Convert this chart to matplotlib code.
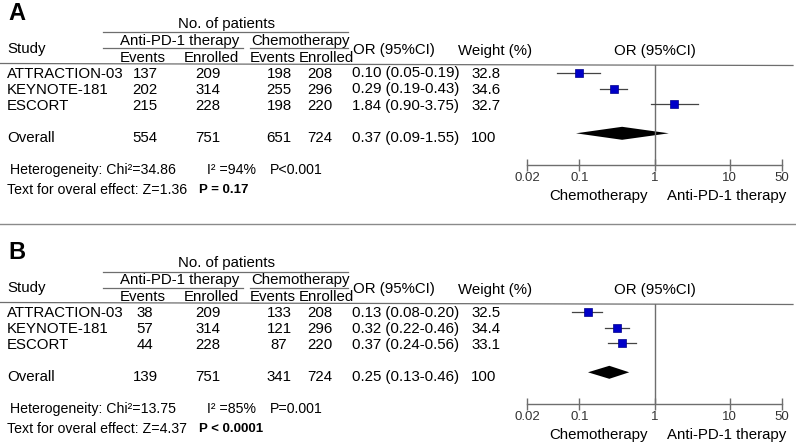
import matplotlib.pyplot as plt
from matplotlib.ticker import NullLocator

plt.rcParams['font.family'] = ['Liberation Sans Narrow', 'Liberation Sans', 'DejaVu Sans']

# data
studies = ["ATTRACTION-03", "KEYNOTE-181", "ESCORT"]
enrolled_pd1 = [209, 314, 228]
enrolled_chemo = [208, 296, 220]

a_events_pd1 = [137, 202, 215]
a_events_chemo = [198, 255, 198]
a_or = [0.10, 0.29, 1.84]
a_lo = [0.05, 0.19, 0.90]
a_hi = [0.19, 0.43, 3.75]
a_weight = ["32.8", "34.6", "32.7"]
a_overall = [554, 751, 651, 724]
a_overall_or = [0.37, 0.09, 1.55]
a_het = ["34.86", "94%", "P<0.001"]
a_effect = ["1.36", "P = 0.17"]

b_events_pd1 = [38, 57, 44]
b_events_chemo = [133, 121, 87]
b_or = [0.13, 0.32, 0.37]
b_lo = [0.08, 0.22, 0.24]
b_hi = [0.20, 0.46, 0.56]
b_weight = ["32.5", "34.4", "33.1"]
b_overall = [139, 751, 341, 724]
b_overall_or = [0.25, 0.13, 0.46]
b_het = ["13.75", "85%", "P=0.001"]
b_effect = ["4.37", "P < 0.0001"]

tick_vals = [0.02, 0.1, 1, 10, 50]
tick_labels = ["0.02", "0.1", "1", "10", "50"]

W, H = 796, 444
FS = 10.8
GREY = "#6e6e6e"

fig = plt.figure(figsize=(W / 100, H / 100), dpi=100)
bg = fig.add_axes([0, 0, 1, 1])
bg.set_xlim(0, W)
bg.set_ylim(H, 0)
bg.axis("off")


def txt(x, y, s, ha="left", **kw):
    bg.text(x, y, s, ha=ha, va="center", fontsize=kw.pop("fontsize", FS), **kw)


def panel(off, letter, ev_pd1, ev_chemo, ors, los, his, weights, overall, overall_or, het, effect):
    txt(8, 13 + off, letter, fontsize=17, fontweight="bold", family=["Liberation Sans", "DejaVu Sans"])
    # header
    txt(227, 24 + off, "No. of patients", ha="center")
    bg.plot([103, 348], [32.5 + off, 32.5 + off], color=GREY, lw=0.9)
    txt(180, 41 + off, "Anti-PD-1 therapy", ha="center")
    txt(300, 41 + off, "Chemotherapy", ha="center")
    bg.plot([103, 243], [48.5 + off, 48.5 + off], color=GREY, lw=0.9)
    bg.plot([250, 348], [48.5 + off, 48.5 + off], color=GREY, lw=0.9)
    txt(7, 49 + off, "Study")
    txt(143, 58 + off, "Events", ha="center")
    txt(211, 58 + off, "Enrolled", ha="center")
    txt(273, 58 + off, "Events", ha="center")
    txt(326, 58 + off, "Enrolled", ha="center")
    txt(353, 50 + off, "OR (95%CI)")
    txt(458, 51 + off, "Weight (%)")
    txt(655, 51 + off, "OR (95%CI)", ha="center")
    bg.plot([0, 793], [63.5 + off, 65.5 + off], color=GREY, lw=0.9)

    rows = [73.5, 89.5, 105.5]
    for i, name in enumerate(studies):
        y = rows[i] + off
        txt(7, y, name)
        txt(145, y, str(ev_pd1[i]), ha="center")
        txt(208, y, str(enrolled_pd1[i]), ha="center")
        txt(279, y, str(ev_chemo[i]), ha="center")
        txt(320, y, str(enrolled_chemo[i]), ha="center")
        txt(352, y, f"{ors[i]:.2f} ({los[i]:.2f}-{his[i]:.2f})")
        txt(471, y, weights[i])
    y = 137.5 + off
    txt(7, y, "Overall")
    txt(145, y, str(overall[0]), ha="center")
    txt(208, y, str(overall[1]), ha="center")
    txt(279, y, str(overall[2]), ha="center")
    txt(320, y, str(overall[3]), ha="center")
    txt(352, y, f"{overall_or[0]:.2f} ({overall_or[1]:.2f}-{overall_or[2]:.2f})")
    txt(471, y, "100")

    txt(10, 169.5 + off, "Heterogeneity: Chi\u00b2=" + het[0], fontsize=10.2)
    txt(207, 169.5 + off, "I\u00b2 =" + het[1], fontsize=10.2)
    txt(270, 169.5 + off, het[2], fontsize=10.2)
    txt(7, 189.5 + off, "Text for overal effect: Z=" + effect[0], fontsize=10.2)
    txt(199, 189.5 + off, effect[1], fontweight="bold", family=["Liberation Sans", "DejaVu Sans"], fontsize=9.5)

    txt(598, 195.5 + off, "Chemotherapy", ha="center")
    txt(727, 195.5 + off, "Anti-PD-1 therapy", ha="center")

    # forest axes: x from 527 to 782 px, y from header line to axis line
    top, bot = 65 + off, 165 + off
    ax = fig.add_axes([527 / W, 1 - bot / H, (782 - 527) / W, (bot - top) / H])
    ax.set_xscale("log")
    ax.set_xlim(0.02, 50)
    ax.set_ylim(bot, top)
    ax.patch.set_alpha(0)
    for s in ["left", "right", "top"]:
        ax.spines[s].set_visible(False)
    ax.spines["bottom"].set_color(GREY)
    ax.spines["bottom"].set_linewidth(1.0)
    ax.set_yticks([])
    ax.set_xticks(tick_vals)
    ax.set_xticklabels(tick_labels)
    ax.xaxis.set_minor_locator(NullLocator())
    ax.tick_params(axis="x", direction="inout", length=8, width=1.0, color=GREY,
                   labelsize=9.5, labelcolor="#333333", pad=1)
    ax.axvline(1, color=GREY, lw=1.0)

    mrows = [72.7, 88.7, 103.7]
    for i in range(len(studies)):
        yy = mrows[i] + off
        ax.plot([los[i], his[i]], [yy, yy], color="#444444", lw=0.9)
        ax.plot(ors[i], yy, marker="s", ms=5.2, color="#0000c8", mec="#00008a", mew=0.5)
    yd = 133.3 + off
    est, lo, hi = overall_or
    ax.fill([lo, est, hi, est], [yd, yd - 6.5, yd, yd + 6.5], color="black", lw=0)


panel(0, "A", a_events_pd1, a_events_chemo, a_or, a_lo, a_hi, a_weight, a_overall, a_overall_or, a_het, a_effect)
bg.plot([0, W], [224, 224], color="#8a8a8a", lw=1.0)
panel(239, "B", b_events_pd1, b_events_chemo, b_or, b_lo, b_hi, b_weight, b_overall, b_overall_or, b_het, b_effect)

fig.savefig("out.png", dpi=100)
